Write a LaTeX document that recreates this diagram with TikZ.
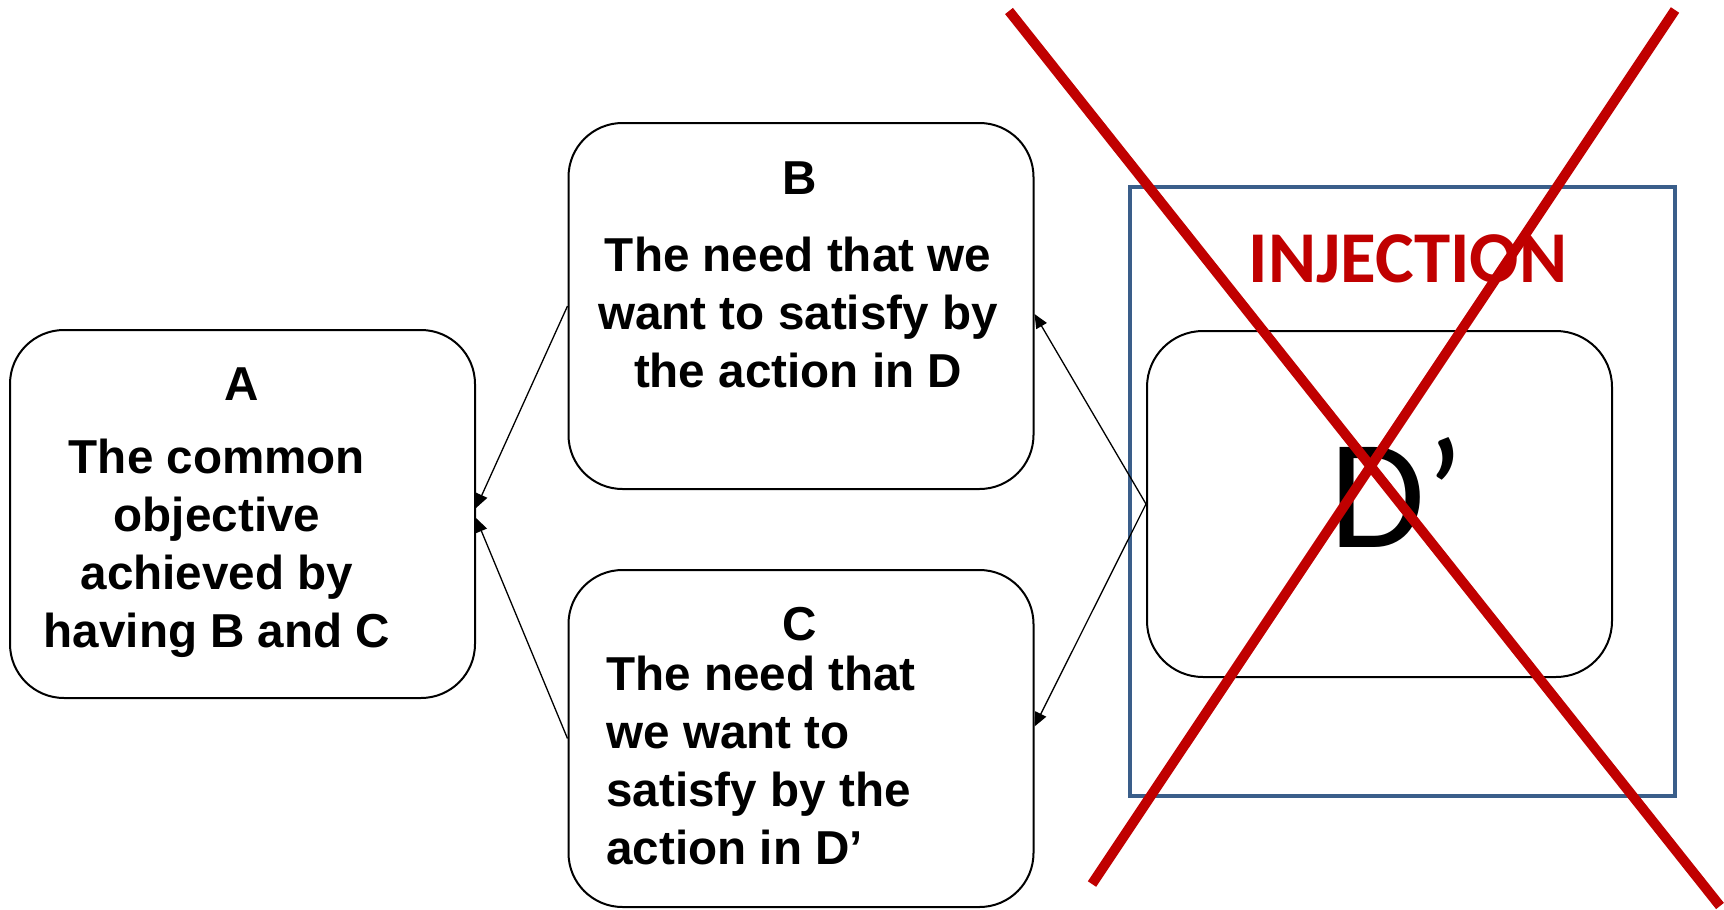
\documentclass[tikz,border=0pt]{standalone}
\usepackage{fontspec}
\setmainfont{Liberation Sans}
\newfontfamily\calfont{Carlito}
\usetikzlibrary{arrows.meta}

\definecolor{crossred}{RGB}{192,0,0}
\definecolor{frameblue}{RGB}{58,94,138}

\tikzset{
  box/.style={draw, line width=1pt, rounded corners=27pt, minimum width=232.5pt},
  boxtext/.style={inner sep=0pt, font=\bfseries\fontsize{23.8}{29}\selectfont},
  link/.style={line width=0.65pt, -{Triangle[length=7pt,width=6pt]}},
  cross/.style={crossred, line width=5pt}
}

\begin{document}
\begin{tikzpicture}[x=0.5pt, y=-0.5pt]
  \useasboundingbox (0,0) rectangle (1724,910);

  % left and middle boxes
  \node[box, minimum height=184pt] (A) at (242.5,514) {};
  \node[box, minimum height=183pt] (B) at (801,306) {};
  \node[box, minimum height=168.5pt] (C) at (801,738.5) {};

  \node[boxtext, anchor=base] (Alabel) at (242,400) {A};
  \node[boxtext, align=center] (Atext) at (217,548)
    {The common\\objective\\achieved by\\having B and C};

  \node[boxtext, anchor=base] (Blabel) at (800,194) {B};
  \node[boxtext, align=center] (Btext) at (798,312)
    {The need that we\\want to satisfy by\\the action in D};

  \node[boxtext, anchor=base] (Clabel) at (800,640) {C};
  \node[boxtext, align=left, anchor=west] (Ctext) at (606,760)
    {The need that\\we want to\\satisfy by the\\action in D’};

  % injection frame
  \draw[frameblue, line width=2pt] (1130,187) rectangle (1675,796);
  \node[crossred, inner sep=0pt, anchor=base, font=\calfont\bfseries\fontsize{36.5}{40}\selectfont]
    (inj) at (1408,282) {INJECTION};
  \node[box, minimum height=173pt, rounded corners=28pt] (D) at (1379.5,504) {};
  \node[inner sep=0pt, anchor=base, font=\calfont\fontsize{78}{80}\selectfont]
    (Dlabel) at (1397,547) {D’};

  % connectors
  \draw[link] (B.west) -- ([yshift=3pt]A.east);
  \draw[link] (C.west) -- ([yshift=-2pt]A.east);
  \draw[link] (D.west) -- ([yshift=-4pt]B.east);
  \draw[link] (D.west) -- ([yshift=6pt]C.east);

  % the cross
  \coordinate (x1) at (1009,11);
  \coordinate (x2) at (1720,906);
  \coordinate (x3) at (1675,10);
  \coordinate (x4) at (1092,884);
  \draw[cross] (x1) -- (x2);
  \draw[cross] (x3) -- (x4);
\end{tikzpicture}
\end{document}
